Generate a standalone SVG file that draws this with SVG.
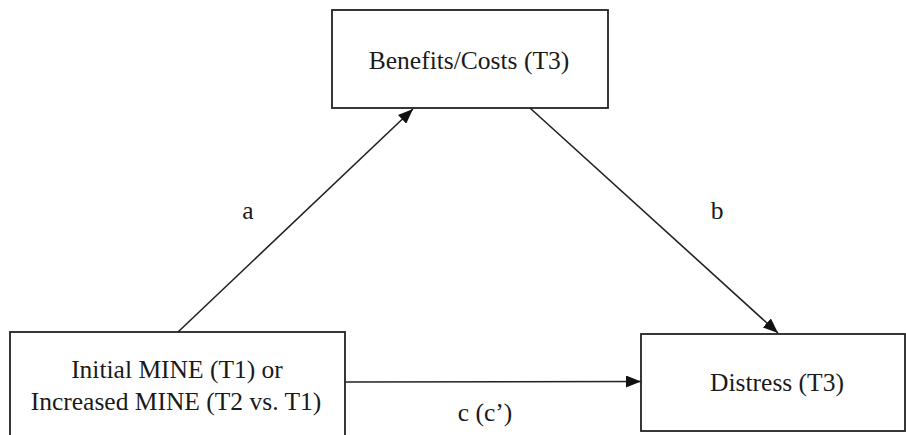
<svg xmlns="http://www.w3.org/2000/svg" width="906" height="435" viewBox="0 0 906 435">
<style>
.box{fill:#fff;stroke:#222;stroke-width:1.8}
.lbl{font-family:"Liberation Serif","Times New Roman",serif;font-size:25.5px;fill:#1a1a1a;text-anchor:middle}
.edge{stroke:#222;stroke-width:1.6;fill:none}
</style>
<defs>
<marker id="arr" markerUnits="userSpaceOnUse" markerWidth="16" markerHeight="12" refX="15" refY="6" orient="auto">
<path d="M0,0 L15,6 L0,12 Z" fill="#111"/>
</marker>
</defs>
<rect width="906" height="435" fill="#fff"/>
<g id="connectors">
<line class="edge" x1="178" y1="332" x2="413" y2="109" marker-end="url(#arr)"/>
<line class="edge" x1="530" y1="108" x2="778" y2="333" marker-end="url(#arr)"/>
<line class="edge" x1="345" y1="382" x2="641" y2="381.5" marker-end="url(#arr)"/>
<text class="lbl" x="248" y="219">a</text>
<text class="lbl" x="717" y="219">b</text>
<text class="lbl" x="485" y="421">c (c’)</text>
</g>
<g id="benefits">
<rect class="box" x="332" y="10" width="276" height="98"/>
<text class="lbl" x="469" y="69">Benefits/Costs (T3)</text>
</g>
<g id="mine">
<rect class="box" x="10" y="332" width="335" height="120"/>
<text class="lbl" x="177" y="378">Initial MINE (T1) or</text>
<text class="lbl" x="176" y="410">Increased MINE (T2 vs. T1)</text>
</g>
<g id="distress">
<rect class="box" x="641" y="334" width="264" height="97"/>
<text class="lbl" x="777" y="391">Distress (T3)</text>
</g>
</svg>
